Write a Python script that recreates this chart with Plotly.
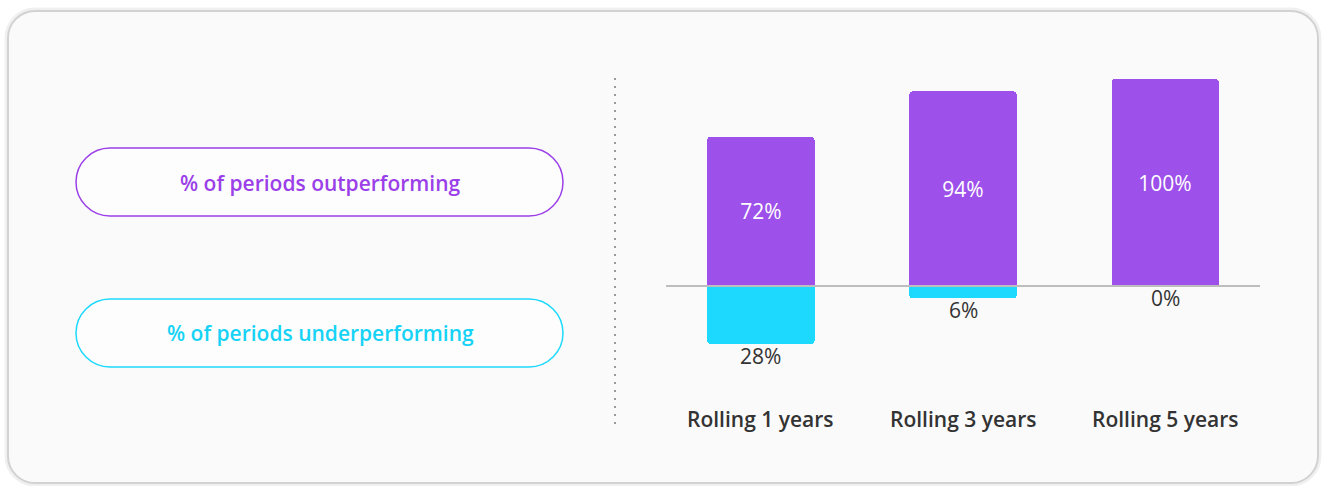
import plotly.graph_objects as go

categories = ["Rolling 1 years", "Rolling 3 years", "Rolling 5 years"]
outperforming = [72, 94, 100]
underperforming = [28, 6, 0]
legend_labels = ["% of periods outperforming", "% of periods underperforming"]

W, H = 1322, 486
PURPLE = "#9d50ea"
PURPLE_TXT = "#9b3fe8"
CYAN = "#1cd9fd"
CYAN_TXT = "#16d3f6"
FONT = "Open Sans"
FS = 21


def px(x):
    return x / W


def py(y):
    return 1 - y / H


def rounded_rect(x0, y0, x1, y1, r):
    k = 0.5523 * r
    pts = [
        f"M {px(x0 + r)} {py(y0)}",
        f"L {px(x1 - r)} {py(y0)}",
        f"C {px(x1 - r + k)} {py(y0)} {px(x1)} {py(y0 + r - k)} {px(x1)} {py(y0 + r)}",
        f"L {px(x1)} {py(y1 - r)}",
        f"C {px(x1)} {py(y1 - r + k)} {px(x1 - r + k)} {py(y1)} {px(x1 - r)} {py(y1)}",
        f"L {px(x0 + r)} {py(y1)}",
        f"C {px(x0 + r - k)} {py(y1)} {px(x0)} {py(y1 - r + k)} {px(x0)} {py(y1 - r)}",
        f"L {px(x0)} {py(y0 + r)}",
        f"C {px(x0)} {py(y0 + r - k)} {px(x0 + r - k)} {py(y0)} {px(x0 + r)} {py(y0)}",
        "Z",
    ]
    return " ".join(pts)


# plot area geometry (pixels)
x_left, x_right = 666, 1260
x_range = [-0.47, 2.47]
base_px, top_px = 286, 79  # y=0 and y=100
ppu = (base_px - top_px) / 100.0
y_range = [-60, 110]
plot_top = base_px - y_range[1] * ppu
plot_bot = base_px - y_range[0] * ppu

fig = go.Figure()
fig.add_trace(go.Bar(
    x=categories, y=outperforming,
    marker=dict(color=PURPLE, cornerradius=3, line=dict(width=0)),
    text=[f"{v}%" for v in outperforming], textposition="inside",
    insidetextanchor="middle",
    textfont=dict(color="white", size=FS, family=FONT),
    width=0.53, name=legend_labels[0], hoverinfo="skip",
))
fig.add_trace(go.Bar(
    x=categories, y=[-v for v in underperforming],
    marker=dict(color=CYAN, cornerradius=3, line=dict(width=0)),
    width=0.53, name=legend_labels[1], hoverinfo="skip",
))

shapes = []
# card shadow + card
shapes.append(dict(type="path", xref="paper", yref="paper",
                   path=rounded_rect(7, 10, 1319, 484, 28),
                   line=dict(color="rgba(0,0,0,0.06)", width=5), fillcolor="rgba(0,0,0,0)", layer="below"))
shapes.append(dict(type="path", xref="paper", yref="paper",
                   path=rounded_rect(8, 11, 1318, 483, 27),
                   line=dict(color="#d2d2d2", width=2), fillcolor="#fafafa", layer="below"))
# legend pills
shapes.append(dict(type="path", xref="paper", yref="paper",
                   path=rounded_rect(76, 148, 563, 216, 34),
                   line=dict(color=PURPLE_TXT, width=1.5), fillcolor="rgba(255,255,255,0.6)", layer="below"))
shapes.append(dict(type="path", xref="paper", yref="paper",
                   path=rounded_rect(76, 299, 563, 367, 34),
                   line=dict(color=CYAN, width=1.5), fillcolor="rgba(255,255,255,0.6)", layer="below"))
# dotted separator
shapes.append(dict(type="line", xref="paper", yref="paper",
                   x0=px(615), x1=px(615), y0=py(78), y1=py(428),
                   line=dict(color="#9a9a9a", width=2, dash="2px,6px")))
# baseline
shapes.append(dict(type="line", xref="x", yref="y",
                   x0=x_range[0], x1=x_range[1], y0=0, y1=0,
                   line=dict(color="#bdbdbd", width=2)))

annotations = [
    dict(xref="paper", yref="paper", x=px(320), y=py(183), text=legend_labels[0],
         xanchor="center", yanchor="middle",
         showarrow=False, font=dict(family=FONT, size=FS, color=PURPLE_TXT, weight=600)),
    dict(xref="paper", yref="paper", x=px(320), y=py(333), text=legend_labels[1],
         xanchor="center", yanchor="middle",
         showarrow=False, font=dict(family=FONT, size=FS, color=CYAN_TXT, weight=600)),
]
for c, v in zip(categories, underperforming):
    annotations.append(dict(xref="x", yref="y", x=c, y=-v, text=f"{v}%", showarrow=False,
                            xanchor="center", yanchor="top", yshift=4,
                            font=dict(family=FONT, size=FS, color="#333333")))
for c in categories:
    annotations.append(dict(xref="x", yref="paper", x=c, y=py(419), text=c, showarrow=False,
                            xanchor="center", yanchor="middle",
                            font=dict(family=FONT, size=FS, color="#333333", weight=600)))

fig.update_layout(
    width=W, height=H, autosize=False,
    margin=dict(l=0, r=0, t=0, b=0),
    paper_bgcolor="white", plot_bgcolor="rgba(0,0,0,0)",
    barmode="relative", bargap=0, showlegend=False,
    xaxis=dict(domain=[px(x_left), px(x_right)], range=x_range, visible=False,
               type="category"),
    yaxis=dict(domain=[py(plot_bot), py(plot_top)], range=y_range, visible=False),
    shapes=shapes, annotations=annotations,
    font=dict(family=FONT),
)

fig.write_html("out.html", config={"displayModeBar": False, "staticPlot": True},
               post_script="document.body.style.margin='0';document.body.style.overflow='hidden';")
